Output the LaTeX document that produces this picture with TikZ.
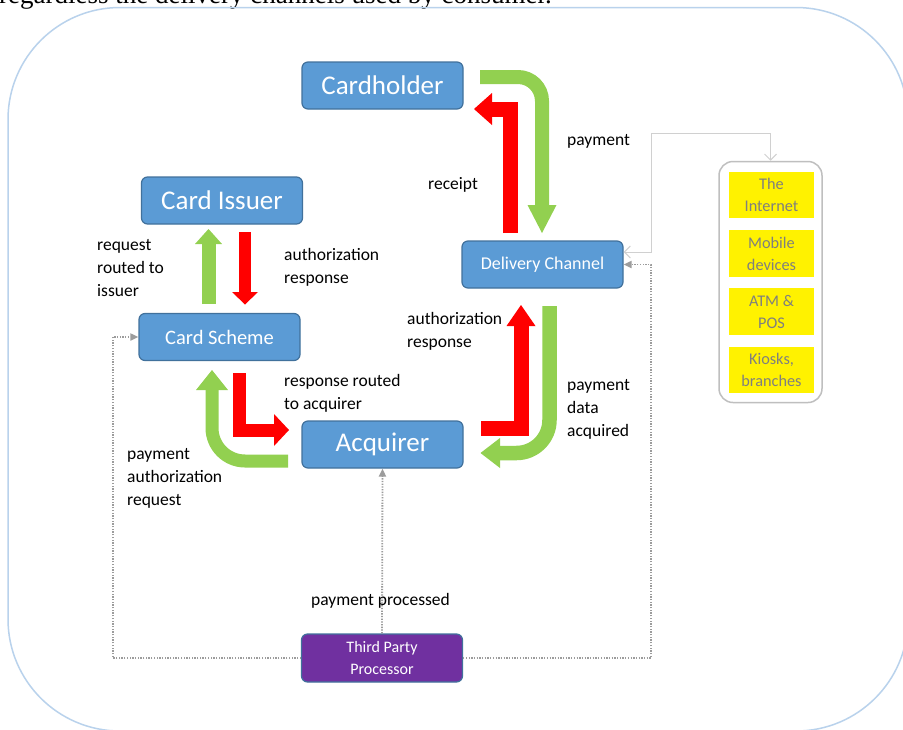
\documentclass[tikz,border=0pt]{standalone}
\usepackage{fontspec}
\setmainfont{Carlito}
\newfontfamily\timesfont{Liberation Serif}
\usetikzlibrary{arrows.meta,calc}
\definecolor{boxblue}{HTML}{5B9BD5}
\definecolor{boxedge}{HTML}{41719C}
\definecolor{purp}{HTML}{7030A0}
\definecolor{agreen}{HTML}{92D050}
\definecolor{ared}{HTML}{FF0000}
\definecolor{framec}{RGB}{185,210,236}
\definecolor{dotgray}{HTML}{9C9C9C}
\definecolor{lightgraytwo}{HTML}{D0D0D0}
\definecolor{ytext}{HTML}{7F7F7F}
\definecolor{grpedge}{HTML}{BFBFBF}
\newcommand\hdown[4]{\fill[#1] ($(#2)+(-#3,0)$) -- ($(#2)+(#3,0)$) -- ($(#2)+(0,#4)$) -- cycle;}
\newcommand\hup[4]{\fill[#1] ($(#2)+(-#3,0)$) -- ($(#2)+(#3,0)$) -- ($(#2)+(0,-#4)$) -- cycle;}
\newcommand\hleft[4]{\fill[#1] ($(#2)+(0,-#3)$) -- ($(#2)+(0,#3)$) -- ($(#2)+(-#4,0)$) -- cycle;}
\newcommand\hright[4]{\fill[#1] ($(#2)+(0,-#3)$) -- ($(#2)+(0,#3)$) -- ($(#2)+(#4,0)$) -- cycle;}
\tikzset{
 ent/.style={draw=boxedge, line width=1.2pt, fill=boxblue, rounded corners=6pt,
   minimum width=161pt, minimum height=47pt, inner sep=0pt, text=white, align=center},
 bigtxt/.style={font=\fontsize{27}{32}\selectfont},
 lbl/.style={anchor=west, align=left, font=\fontsize{17.5}{23}\selectfont, inner sep=0pt},
 ybox/.style={fill=yellow, minimum width=85pt, minimum height=46.5pt, inner sep=0pt,
   text=ytext, align=center, font=\fontsize{16.3}{22}\selectfont},
 garrow/.style={draw=agreen, line width=14pt, shorten >=-1pt},
 rarrow/.style={draw=ared, line width=15pt, shorten >=-1pt},
 dotline/.style={draw=dotgray, line width=1.8pt, dash pattern=on 1.3pt off 1.4pt,
   -{Triangle[length=8pt,width=7pt]}},
 lightline/.style={draw=lightgraytwo, line width=1pt,
   {Straight Barb[length=6pt,width=12pt]}-{Straight Barb[length=6pt,width=12pt]}}
}
\begin{document}
\begin{tikzpicture}[x=1pt,y=-1pt]
\useasboundingbox (0,0) rectangle (903,729);
\clip (0,0) rectangle (903,729);
\fill[white] (0,0) rectangle (903,729);
% cut-off caption at top
\node[anchor=base west, inner sep=0pt, font=\timesfont\fontsize{27}{30}\selectfont] (toptext) at (-1,3)
  {regardless the delivery channels used by consumer.};
% outer frame
\draw[framec, line width=1.5pt, rounded corners=112pt] (8,7.5) rectangle (908,731);

% main entities
\node[ent, bigtxt] (ch) at (382.5,85.5) {Cardholder};
\node[ent, bigtxt] (ci) at (222,200.5) {Card Issuer};
\node[ent, font=\fontsize{20.5}{24}\selectfont] (cs) at (219.5,337) {Card Scheme};
\node[ent, font=\fontsize{18}{22}\selectfont] (dc) at (542.5,264.5) {Delivery Channel};
\node[ent, bigtxt] (aq) at (382.5,444.5) {Acquirer};
\node[ent, fill=purp, minimum height=48pt, font=\fontsize{16}{22}\selectfont] (tpp) at (382,658) {Third Party\\Processor};

% delivery channel group
\node[draw=grpedge, line width=1.5pt, fill=white, rounded corners=14pt,
  minimum width=103pt, minimum height=241pt] (grp) at (770.5,282) {};
\node[ybox] (y1) at (771.5,195) {The\\Internet};
\node[ybox] (y2) at (771.5,253.5) {Mobile\\devices};
\node[ybox] (y3) at (771.5,311.5) {ATM \&\\POS};
\node[ybox] (y4) at (771.5,370) {Kiosks,\\branches};

% connectors (thin)
\coordinate (dclink) at ($(dc.east)+(0,-12.5)$);
\coordinate (lk) at (651,133);
\draw[lightline] (dclink) -| (lk) -| (grp.north);
\coordinate (lc) at (113,658);
\coordinate (rc) at (651,658);
\draw[dotline] (tpp.west) -- (lc) |- (cs.west);
\draw[dotline] (tpp.east) -- (rc) |- (dc.east);
\draw[dotline] (tpp.north) -- (aq.south);

% block arrows
\coordinate (g1s) at (480,77);   \coordinate (g1b) at (542,205);
\draw[garrow, rounded corners=24pt] (g1s) -| (g1b);
\hdown{agreen}{g1b}{14.5}{28}

\coordinate (r1s) at (510.5,233); \coordinate (r1b) at (492,109);
\draw[rarrow] (r1s) |- (r1b);
\hleft{ared}{r1b}{16}{18}

\coordinate (g2s) at (208.5,304); \coordinate (g2b) at (208.5,244);
\draw[garrow] (g2s) -- (g2b);
\hup{agreen}{g2b}{13.5}{15}

\coordinate (r2s) at (245,232); \coordinate (r2b) at (245,292);
\draw[rarrow, line width=12.5pt] (r2s) -- (r2b);
\hdown{ared}{r2b}{13}{12.5}

\coordinate (g3s) at (288,461); \coordinate (g3b) at (212,390);
\draw[garrow, line width=13pt, rounded corners=33pt] (g3s) -| (g3b);
\hup{agreen}{g3b}{16}{20}

\coordinate (r3s) at (239.5,373); \coordinate (r3b) at (274,430);
\draw[rarrow, line width=13pt] (r3s) |- (r3b);
\hright{ared}{r3b}{16}{15}

\coordinate (r4s) at (481,428); \coordinate (r4b) at (521,326);
\draw[rarrow] (r4s) -| (r4b);
\hup{ared}{r4b}{14.5}{21}

\coordinate (g4s) at (549.5,306); \coordinate (g4b) at (500,453);
\draw[garrow, line width=14.5pt, rounded corners=33pt] (g4s) |- (g4b);
\hleft{agreen}{g4b}{15}{19.5}

% labels
\node[lbl] (l1) at (567,141) {payment};
\node[lbl] (l2) at (428,185) {receipt};
\node[lbl] (l3) at (97,268) {request\\routed to\\issuer};
\node[lbl] (l4) at (284,267.5) {authorization\\response};
\node[lbl] (l5) at (407,331) {authorization\\response};
\node[lbl] (l6) at (284,393.5) {response routed\\to acquirer};
\node[lbl] (l7) at (567,409) {payment\\data\\acquired};
\node[lbl] (l8) at (127,478) {payment\\authorization\\request};
\node[lbl, anchor=center] (l9) at (380.5,601) {payment processed};
\end{tikzpicture}
\end{document}
